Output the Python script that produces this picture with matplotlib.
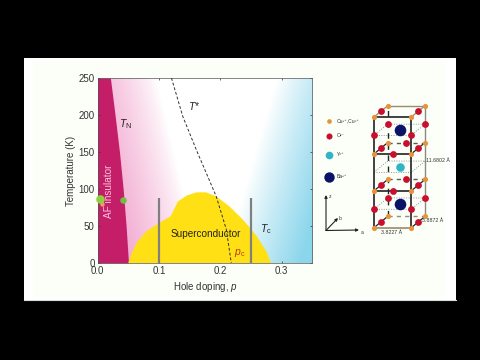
import numpy as np
import matplotlib
matplotlib.use('Agg')
import matplotlib.pyplot as plt
from matplotlib.patches import Rectangle
from matplotlib.colors import to_rgb

plt.rcParams['font.family'] = ['Liberation Sans', 'DejaVu Sans']
plt.rcParams['mathtext.fontset'] = 'custom'
plt.rcParams['mathtext.it'] = 'Liberation Sans:italic'
plt.rcParams['mathtext.rm'] = 'Liberation Sans'

# phase diagram
af_temp = [0, 50, 100, 150, 200, 250]
af_doping = [0.0505, 0.0466, 0.0418, 0.0358, 0.0286, 0.021]

dome_doping = [0.050, 0.056, 0.065, 0.080, 0.100, 0.119, 0.131, 0.145, 0.161,
               0.177, 0.1935, 0.215, 0.237, 0.258, 0.275, 0.283]
dome_temp = [0, 13.5, 29, 43, 54, 63, 83, 91, 95.5,
             95.5, 90, 76.5, 58.5, 38, 16, 0]

tstar_doping = [0.1205, 0.139, 0.161, 0.1935, 0.21, 0.218]
tstar_temp = [250, 198, 153, 90, 45, 0]

bar_doping = [0.1, 0.25]
bar_top = 88

x_ticks = [0.0, 0.1, 0.2, 0.3]
y_ticks = [0, 50, 100, 150, 200, 250]

# unit cell in fractional coordinates
corners = [(0, 0), (1, 0), (0, 1), (1, 1)]
cu_layers = [0, 1 / 3, 2 / 3, 1]
o_edge_layers = [1 / 6, 5 / 6]
o_face_layers = [1 / 3, 2 / 3]
ba_atoms = [(0.5, 0.5, 1 / 6), (0.5, 0.5, 5 / 6)]
y_atoms = [(0.5, 0.5, 0.5)]

legend_names = ['Cu²⁺,Cu³⁺', 'O²⁻', 'Y³⁺', 'Ba²⁺']
legend_y = [121, 135.7, 154.7, 176.7]
legend_size = [14, 24, 38, 70]

CU = '#E8923C'
O = '#C8102E'
Y = '#2FB4C8'
BA = '#0B1368'


def cell_xy(a, b, c):
    return 374 + 37.3 * a + 13.7 * b, 227.7 - 110.7 * c - 11.3 * b


fig = plt.figure(figsize=(4.8, 3.6), dpi=100, facecolor='black')

# slide and crystal, in pixels
bg = fig.add_axes([0, 0, 1, 1])
bg.set_xlim(0, 480)
bg.set_ylim(360, 0)
bg.axis('off')
bg.add_patch(Rectangle((24, 58), 432, 243, fc='#FFFFFF', ec='none', zorder=0))
bg.add_patch(Rectangle((33, 62), 412, 235, fc='#FBFFF8', ec='none', zorder=0))
bg.plot([24, 456], [299.5, 299.5], color='#D8DCD8', lw=0.8, zorder=0)

# dotted planes through the Ba layers and the Y layer
for c in [1 / 6, 1 / 2, 5 / 6]:
    pts = [cell_xy(*p, c) for p in [(0, 0), (1, 0), (1, 1), (0, 1), (0, 0)]]
    bg.plot(*zip(*pts), color='#6A7A7A', lw=0.5, ls=(0, (1.5, 2)), zorder=1)

# back edges
for c in cu_layers:
    pts = [cell_xy(*p, c) for p in [(0, 1), (1, 1)]]
    col = '#9A8A70' if c in (0, 1) else '#5A5A50'
    bg.plot(*zip(*pts), color=col, lw=1.0, ls='-' if c == 1 else (0, (3, 3)), zorder=1)
for a, b in [(1, 1)]:
    pts = [cell_xy(a, b, 0), cell_xy(a, b, 1)]
    bg.plot(*zip(*pts), color='#8A8A80', lw=1.0, zorder=1)
pts = [cell_xy(0, 1, 0), cell_xy(0, 1, 1)]
bg.plot(*zip(*pts), color='#222222', lw=1.0, ls=(0, (4, 4)), zorder=1)

# front edges
for a, b in [(0, 0), (1, 0)]:
    pts = [cell_xy(a, b, 0), cell_xy(a, b, 1)]
    bg.plot(*zip(*pts), color='#222222', lw=1.2, zorder=2)
for c in cu_layers:
    pts = [cell_xy(0, 0, c), cell_xy(1, 0, c)]
    col = '#9A8A70' if c == 0 else '#222222'
    bg.plot(*zip(*pts), color=col, lw=1.2, zorder=2)
    for a in [0, 1]:
        pts = [cell_xy(a, 0, c), cell_xy(a, 1, c)]
        col = '#9A8A70' if c == 1 else '#222222'
        bg.plot(*zip(*pts), color=col, lw=0.9, zorder=2)

cu_pts = [cell_xy(a, b, c) for c in cu_layers for a, b in corners]
o_pts = [cell_xy(a, b, c) for c in o_edge_layers for a, b in corners]
o_pts += [cell_xy(0.5, b, c) for c in o_face_layers for b in [0, 1]]
o_pts += [cell_xy(a, 0.5, c) for c in cu_layers for a in [0, 1]]
bg.scatter(*zip(*cu_pts), s=14, color=CU, lw=0, zorder=4)
bg.scatter(*zip(*o_pts), s=24, color=O, lw=0, zorder=4)
bg.scatter(*zip(*[cell_xy(*p) for p in ba_atoms]), s=70, color=BA, lw=0, zorder=4)
bg.scatter(*zip(*[cell_xy(*p) for p in y_atoms]), s=38, color=Y, lw=0, zorder=4)

# legend
for name, ly, sz, col in zip(legend_names, legend_y, legend_size, [CU, O, Y, BA]):
    bg.scatter([329], [ly], s=sz * 0.8, color=col, lw=0, zorder=4)
    bg.text(337, ly, name, fontsize=3.6, va='center', color='#333333')

# cell dimensions
bg.text(426, 160, '11.6802 Å', fontsize=3.8, va='center', color='#333333')
bg.text(422, 221, '3.8872 Å', fontsize=3.8, va='center', color='#333333')
bg.text(381, 233, '3.8227 Å', fontsize=3.8, va='center', color='#333333')

# crystal axes
for tip in [(326, 195), (359, 230), (338, 218)]:
    bg.annotate('', xy=tip, xytext=(326, 230.5),
                arrowprops=dict(arrowstyle='-|>', color='#222222', lw=0.8,
                                mutation_scale=4, shrinkA=0, shrinkB=0))
bg.text(330, 196, 'z', fontsize=3.6, va='center', ha='center', color='#333333')
bg.text(340, 219, 'b', fontsize=3.6, va='center', ha='center', color='#333333')
bg.text(361.7, 232, 'a', fontsize=3.6, va='center', ha='center', color='#333333')

# phase diagram
ax = fig.add_axes([97.5 / 480, 1 - 263 / 360, 214.8 / 480, 185 / 360])
ax.set_facecolor('none')
ax.set_xlim(0, 0.35)
ax.set_ylim(0, 250)

# background shading
pp, tt = np.meshgrid(np.linspace(0, 0.35, 300), np.linspace(0, 250, 200))
pink_w = np.clip((0.165 - pp - tt * 0.00028) / 0.11, 0, 1) ** 0.8
blue_w = np.clip((pp - 0.205 - tt * 0.00035) / 0.125, 0, 1) ** 0.9
img = np.ones(pp.shape + (3,))
for i in range(3):
    img[..., i] += pink_w * (to_rgb('#F3AFD3')[i] - 1)
    img[..., i] += blue_w * (to_rgb('#8CD6EC')[i] - 1)
ax.imshow(np.clip(img, 0, 1), extent=[0, 0.35, 0, 250], origin='lower',
          aspect='auto', zorder=0, interpolation='bilinear')

ax.fill_betweenx(af_temp, 0, af_doping, color='#C41E68', lw=0, zorder=1)
ax.fill(dome_doping, dome_temp, color='#FFE014', lw=0, zorder=2)
ax.plot(tstar_doping, tstar_temp, color='#333333', lw=0.7, ls=(0, (3, 2)), zorder=3)
ax.vlines(bar_doping, 0, bar_top, color='#808080', lw=1.6, zorder=4)

# green marks on the left
ax.scatter([0.004], [87], s=38, color='#8ED03C', lw=0, zorder=5, clip_on=False)
ax.scatter([0.007], [80], s=10, color='#E8A060', lw=0, zorder=6)
ax.scatter([0.041], [85], s=22, color='#6FBF40', lw=0, zorder=5)

ax.text(0.045, 188, r'$T_{\mathrm{N}}$', fontsize=7.5, ha='center', va='center', color='#222222')
ax.text(0.157, 212, r'$T$*', fontsize=7.5, ha='center', va='center', color='#222222')
ax.text(0.275, 46, r'$T_{\mathrm{c}}$', fontsize=7.5, ha='center', va='center', color='#222222')
ax.text(0.232, 13, r'$p_{\mathrm{c}}$', fontsize=7.5, ha='center', va='center', color='#B83A10')
ax.text(0.177, 39, 'Superconductor', fontsize=7.2, ha='center', va='center', color='#222222')
ax.text(0.019, 97, 'AF insulator', fontsize=7.2, rotation=90, ha='center', va='center', color='#F6C6DC')

ax.set_xticks(x_ticks)
ax.set_xticklabels(['%.1f' % v for v in x_ticks])
ax.set_yticks(y_ticks)
ax.tick_params(direction='in', top=True, right=True, length=1.5, width=0.5,
               labelsize=7, pad=2, color='#333333', labelcolor='#333333')
ax.set_xlabel(r'Hole doping, $p$', fontsize=7, color='#333333', labelpad=3)
ax.set_ylabel('Temperature (K)', fontsize=7, color='#333333', labelpad=2)
for s in ax.spines.values():
    s.set_linewidth(0.5)
    s.set_color('#555555')

plt.savefig('out.png', dpi=100, facecolor='black')
